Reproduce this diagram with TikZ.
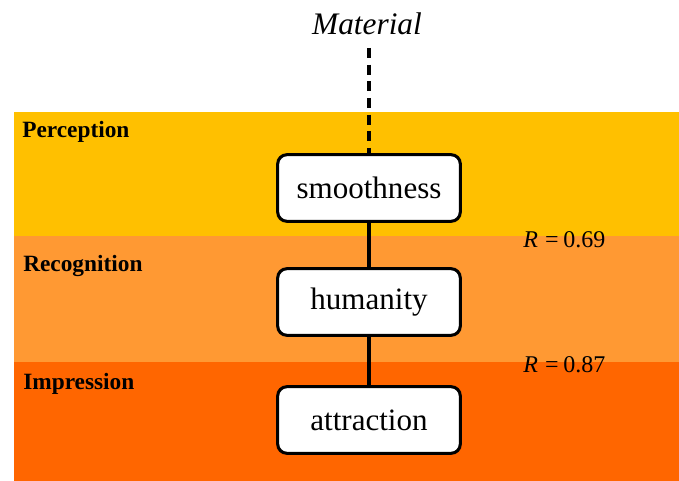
\documentclass[tikz,border=0pt]{standalone}
\usepackage{fontspec}
\setmainfont{Liberation Serif}
\usetikzlibrary{positioning}

\tikzset{
  stage/.style={font=\fontsize{17.5}{20}\selectfont\bfseries, anchor=base west, inner sep=0pt},
  attr/.style={draw, line width=2.3pt, rounded corners=7pt, fill=white,
    minimum width=137pt, minimum height=50pt, inner sep=0pt,
    font=\fontsize{23.3}{26}\selectfont},
  link/.style={line width=2.3pt},
  corr/.style={font=\fontsize{18}{20}\selectfont, anchor=base west, inner sep=0pt}
}
\definecolor{percol}{HTML}{FFC000}
\definecolor{reccol}{HTML}{FF9933}
\definecolor{impcol}{HTML}{FF6600}

\begin{document}
\begin{tikzpicture}[x=0.75pt,y=-0.75pt]
  \useasboundingbox (0,0) rectangle (679,481);
  % the three bands
  \fill [percol] (14,112) rectangle (679,236);
  \fill [reccol] (14,236) rectangle (679,362);
  \fill [impcol] (14,362) rectangle (679,481);
  \node [stage] (perc) at (22,138) {Perception};
  \node [stage] (reco) at (23,272) {Recognition};
  \node [stage] (impr) at (23,389) {Impression};
  % the attributes
  \node [attr] (smooth) at (369,188) {smoothness};
  \node [attr] (human) at (369,302) {humanity};
  \node [attr] (attract) at (369,420) {attraction};
  \node [font=\fontsize{23.5}{26}\itshape, anchor=base] (mat) at (367,35) {Material};
  \coordinate (top) at (369,48);
  \draw [link, dash pattern=on 7.5pt off 5pt] (top) -- (smooth);
  \draw [link] (smooth) -- (human);
  \draw [link] (human) -- (attract);
  \node [corr] (r1) at (523,248) {\textit{R}\hspace{0.3em}=\hspace{0.2em}0.69};
  \node [corr] (r2) at (523,373) {\textit{R}\hspace{0.3em}=\hspace{0.2em}0.87};
\end{tikzpicture}
\end{document}
